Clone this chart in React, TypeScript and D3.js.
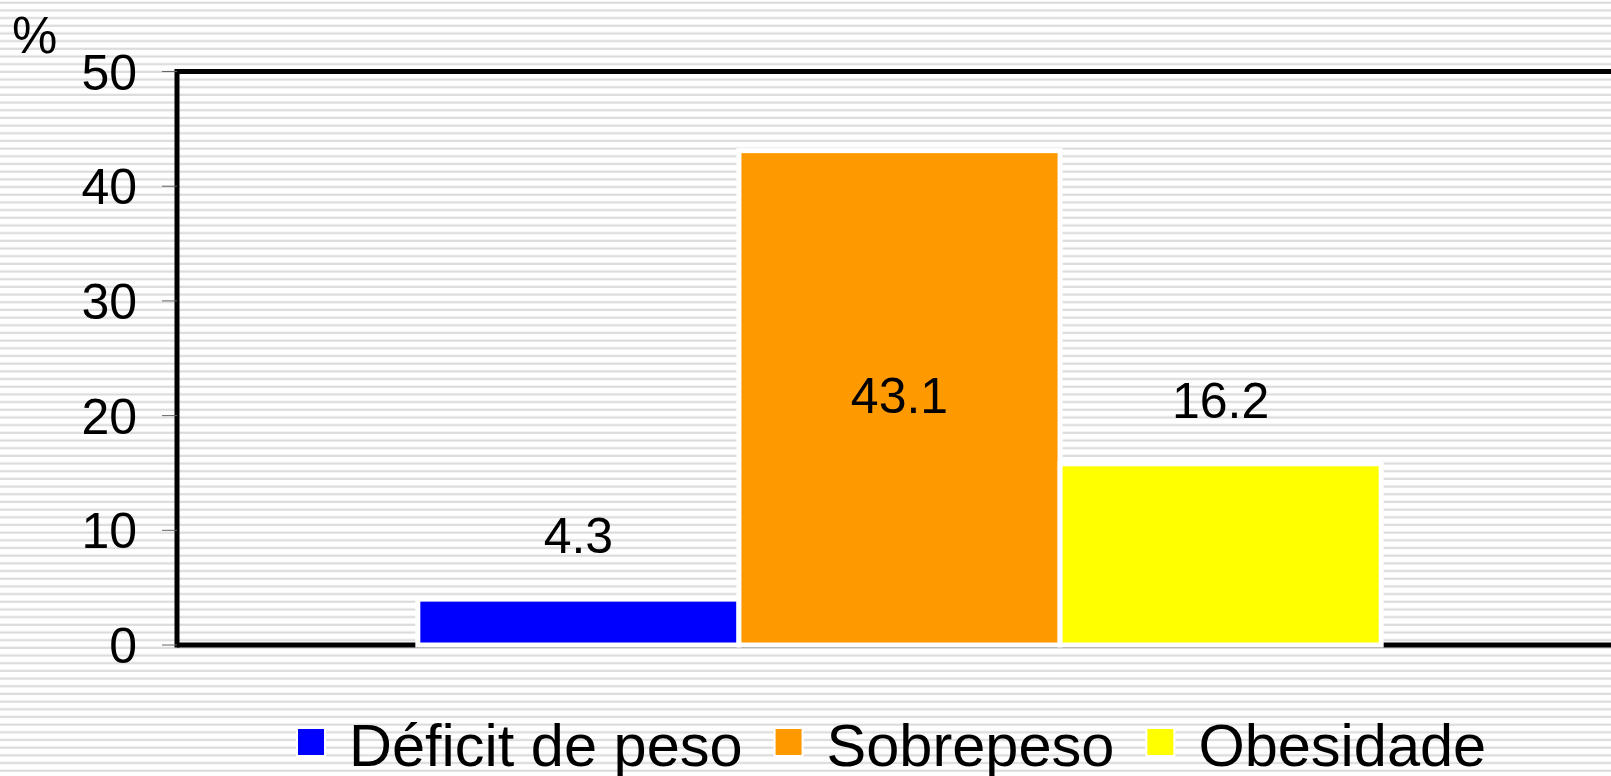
import React, { useEffect, useRef } from "react";
import * as d3 from "d3";

// one category, three series (Excel-style clustered column)
const categories = [""];
const seriesNames = ["Déficit de peso", "Sobrepeso", "Obesidade"];
const seriesColors = ["#0000ff", "#ff9900", "#ffff00"];
// bar heights as drawn in the picture
const barValues = [4.0, 43.1, 15.8];
// data labels as printed on the chart
const labelTexts = ["4.3", "43.1", "16.2"];
const yTicks = [0, 10, 20, 30, 40, 50];

const W = 1611;
const H = 776;
const plot = { left: 177, right: 1622, top: 71.5, bottom: 645 };

export default function App() {
  const ref = useRef<SVGSVGElement>(null);

  useEffect(() => {
    const svg = d3.select(ref.current);
    svg.selectAll("*").remove();

    // striped background
    const defs = svg.append("defs");
    const pat = defs
      .append("pattern")
      .attr("id", "stripes")
      .attr("patternUnits", "userSpaceOnUse")
      .attr("width", 20)
      .attr("height", 7.68);
    pat.append("rect").attr("width", 20).attr("height", 7.68).attr("fill", "#fff");
    pat.append("rect").attr("y", 1.6).attr("width", 20).attr("height", 2.2).attr("fill", "#dcdcdc");
    svg.append("rect").attr("width", W).attr("height", H).attr("fill", "url(#stripes)");

    const x0 = d3.scaleBand().domain(categories).range([plot.left, plot.right]).padding(0.2);
    const x1 = d3.scaleBand().domain(seriesNames).range([0, x0.bandwidth()]);
    const y = d3.scaleLinear().domain([0, 50]).range([plot.bottom, plot.top]);

    // frame lines
    const frame = svg.append("g").attr("stroke", "#000").attr("stroke-width", 5);
    frame.append("line").attr("x1", plot.left).attr("x2", plot.right).attr("y1", y(50)).attr("y2", y(50));
    frame.append("line").attr("x1", plot.left).attr("x2", plot.left).attr("y1", y(50) - 2.5).attr("y2", y(0) + 2.5);
    frame.append("line").attr("x1", plot.left).attr("x2", plot.right).attr("y1", y(0)).attr("y2", y(0));

    // y ticks + labels
    const ticks = svg.append("g");
    ticks
      .selectAll("line")
      .data(yTicks)
      .join("line")
      .attr("x1", plot.left - 15)
      .attr("x2", plot.left)
      .attr("y1", (d) => y(d))
      .attr("y2", (d) => y(d))
      .attr("stroke", "#666")
      .attr("stroke-width", 1);
    ticks
      .selectAll("text")
      .data(yTicks)
      .join("text")
      .attr("x", 137)
      .attr("y", (d) => y(d))
      .attr("dy", "0.36em")
      .attr("text-anchor", "end")
      .attr("font-family", "Liberation Sans, Arial, sans-serif")
      .attr("font-size", 50)
      .text((d) => d);

    svg
      .append("text")
      .attr("x", 12)
      .attr("y", 53)
      .attr("font-family", "Liberation Sans, Arial, sans-serif")
      .attr("font-size", 51)
      .text("%");

    // bars
    const rows = seriesNames.map((name, i) => ({ name, value: barValues[i], label: labelTexts[i], color: seriesColors[i] }));
    const g = svg.append("g").attr("transform", `translate(${x0(categories[0])},0)`);
    g.selectAll("rect")
      .data(rows)
      .join("rect")
      .attr("x", (d) => x1(d.name)!)
      .attr("y", (d) => y(d.value))
      .attr("width", x1.bandwidth())
      .attr("height", (d) => y(0) - y(d.value))
      .attr("fill", (d) => d.color)
      .attr("stroke", "#fff")
      .attr("stroke-width", 5);

    g.selectAll("text")
      .data(rows)
      .join("text")
      .attr("x", (d) => x1(d.name)! + x1.bandwidth() / 2)
      .attr("y", (d) => Math.max(y(d.value) - 46, y(20.2)))
      .attr("text-anchor", "middle")
      .attr("font-family", "Liberation Sans, Arial, sans-serif")
      .attr("font-size", 50)
      .text((d) => d.label);

    // legend
    const leg = svg.append("g").attr("font-family", "Liberation Sans, Arial, sans-serif").attr("font-size", 59.5);
    let lx = 297;
    rows.forEach((d) => {
      leg
        .append("rect")
        .attr("x", lx)
        .attr("y", 728)
        .attr("width", 28)
        .attr("height", 28)
        .attr("fill", d.color)
        .attr("stroke", "#fff")
        .attr("stroke-width", 2);
      const t = leg
        .append("text")
        .attr("x", lx + 52)
        .attr("y", 766)
        .text(d.name);
      const w = (t.node() as SVGTextElement).getComputedTextLength();
      lx += 52 + w + 32;
    });
  }, []);

  return (
    <svg
      ref={ref}
      width={W}
      height={H}
      style={{ position: "absolute", left: 0, top: 0, display: "block" }}
    />
  );
}
